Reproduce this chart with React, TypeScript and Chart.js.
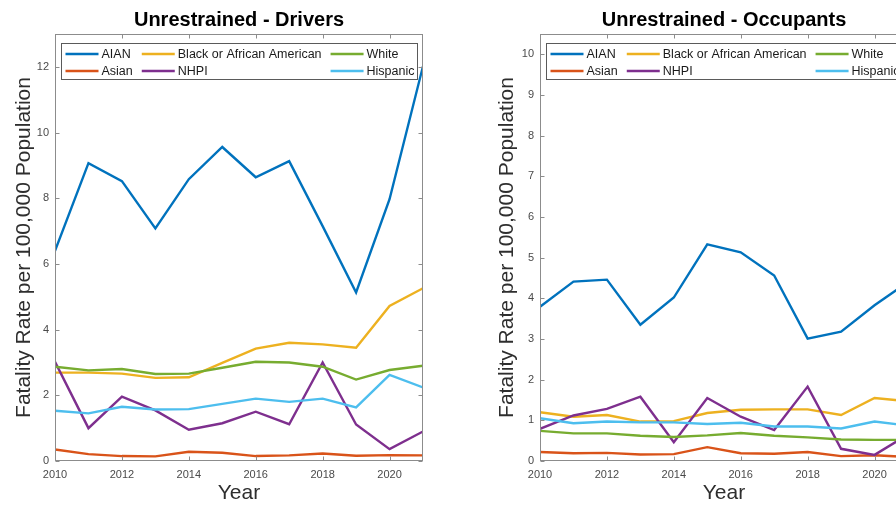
import React, { useEffect, useRef } from "react";
import { Chart, registerables } from "chart.js";

Chart.register(...registerables);

const FONT = "'Liberation Sans', Arial, Helvetica, sans-serif";

// Years on the x axis
const years = [2010, 2011, 2012, 2013, 2014, 2015, 2016, 2017, 2018, 2019, 2020, 2021];

// Series names and their line colours (legend order is column-major)
const seriesNames = ["AIAN", "Asian", "Black or African American", "NHPI", "White", "Hispanic"];
const seriesColors = ["#0072BD", "#D95319", "#EDB120", "#7E2F8E", "#77AC30", "#4DBEEE"];

// Unrestrained drivers: fatality rate per 100,000 population
const driversAIAN = [6.4, 9.07, 8.52, 7.08, 8.58, 9.56, 8.64, 9.13, 7.15, 5.13, 7.97, 12.02];
const driversAsian = [0.35, 0.21, 0.15, 0.14, 0.28, 0.25, 0.15, 0.17, 0.23, 0.16, 0.18, 0.17];
const driversBlack = [2.69, 2.69, 2.66, 2.53, 2.55, 2.99, 3.42, 3.6, 3.55, 3.45, 4.72, 5.26];
const driversNHPI = [3.02, 1.0, 1.96, 1.54, 0.95, 1.15, 1.5, 1.12, 3.0, 1.11, 0.36, 0.9];
const driversWhite = [2.87, 2.76, 2.8, 2.65, 2.66, 2.84, 3.02, 3.0, 2.87, 2.48, 2.77, 2.9];
const driversHispanic = [1.53, 1.45, 1.65, 1.57, 1.58, 1.74, 1.9, 1.8, 1.9, 1.63, 2.62, 2.24];

// Unrestrained occupants: fatality rate per 100,000 population
const occupantsAIAN = [3.79, 4.41, 4.46, 3.35, 4.02, 5.33, 5.13, 4.56, 3.01, 3.18, 3.83, 4.4];
const occupantsAsian = [0.22, 0.19, 0.2, 0.16, 0.17, 0.34, 0.19, 0.18, 0.22, 0.12, 0.14, 0.1];
const occupantsBlack = [1.2, 1.09, 1.13, 0.97, 0.98, 1.18, 1.26, 1.27, 1.27, 1.13, 1.55, 1.47];
const occupantsNHPI = [0.79, 1.12, 1.28, 1.58, 0.46, 1.55, 1.09, 0.76, 1.83, 0.3, 0.15, 0.65];
const occupantsWhite = [0.74, 0.68, 0.68, 0.62, 0.59, 0.63, 0.69, 0.62, 0.58, 0.53, 0.52, 0.52];
const occupantsHispanic = [1.05, 0.93, 0.97, 0.95, 0.95, 0.91, 0.94, 0.85, 0.85, 0.8, 0.97, 0.87];

const driversSeries = [driversAIAN, driversAsian, driversBlack, driversNHPI, driversWhite, driversHispanic];
const occupantsSeries = [occupantsAIAN, occupantsAsian, occupantsBlack, occupantsNHPI, occupantsWhite, occupantsHispanic];

const LINE_W = 2.4;

// Axis box with inward ticks on all four sides, then a boxed legend in two rows
const axesAndLegend = {
  id: "axesAndLegend",
  afterDatasetsDraw(chart: any) {
    const { ctx, chartArea: a, scales } = chart;
    const L = Math.round(a.left) + 0.5;
    const R = Math.round(a.right) - 0.5;
    const T = Math.round(a.top) + 0.5;
    const B = Math.round(a.bottom) - 0.5;
    const tickLen = 4;
    ctx.save();
    ctx.strokeStyle = "#8c8c8c";
    ctx.lineWidth = 1;
    ctx.strokeRect(L, T, R - L, B - T);
    ctx.beginPath();
    for (const t of scales.x.ticks) {
      const px = Math.round(scales.x.getPixelForValue(t.value)) + 0.5;
      ctx.moveTo(px, B);
      ctx.lineTo(px, B - tickLen);
      ctx.moveTo(px, T);
      ctx.lineTo(px, T + tickLen);
    }
    for (const t of scales.y.ticks) {
      const py = Math.round(scales.y.getPixelForValue(t.value)) + 0.5;
      ctx.moveTo(L, py);
      ctx.lineTo(L + tickLen, py);
      ctx.moveTo(R, py);
      ctx.lineTo(R - tickLen, py);
    }
    ctx.stroke();

    // Legend
    const ds = chart.data.datasets;
    const rows = 2;
    const cols = Math.ceil(ds.length / rows);
    ctx.font = `12.5px ${FONT}`;
    const lineLen = 33;
    const textGap = 3;
    const colGap = 9;
    const padL = 4;
    const padR = 3;
    const colW: number[] = [];
    for (let c = 0; c < cols; c++) {
      let w = 0;
      for (let r = 0; r < rows; r++) {
        const d = ds[c * rows + r];
        if (d) w = Math.max(w, ctx.measureText(d.label).width);
      }
      colW.push(lineLen + textGap + w + (c < cols - 1 ? colGap : 0));
    }
    const boxX = Math.round(a.left) + 6 + 0.5;
    const boxY = Math.round(a.top) + 9 + 0.5;
    const boxW = Math.round(padL + colW.reduce((s, v) => s + v, 0) + padR);
    const boxH = 36;
    ctx.fillStyle = "#ffffff";
    ctx.fillRect(boxX, boxY, boxW, boxH);
    ctx.strokeStyle = "#5a5a5a";
    ctx.strokeRect(boxX, boxY, boxW, boxH);
    ctx.textBaseline = "middle";
    ctx.textAlign = "left";
    let cx = boxX + padL;
    for (let c = 0; c < cols; c++) {
      for (let r = 0; r < rows; r++) {
        const d = ds[c * rows + r];
        if (!d) continue;
        const cy = Math.round(boxY + 10 + r * 17);
        ctx.strokeStyle = d.borderColor;
        ctx.lineWidth = LINE_W;
        ctx.beginPath();
        ctx.moveTo(cx, cy);
        ctx.lineTo(cx + lineLen, cy);
        ctx.stroke();
        ctx.fillStyle = "#1a1a1a";
        ctx.fillText(d.label, cx + lineLen + textGap, cy + 0.5);
      }
      cx += colW[c];
    }
    ctx.restore();
  },
};

type PanelProps = {
  title: string;
  series: number[][];
  yMax: number;
  yStep: number;
  left: number;
  width: number;
  axisWidth: number;
  plotWidth: number;
  yTitlePad: number;
};

function FatalityPanel(props: PanelProps) {
  const ref = useRef<HTMLCanvasElement | null>(null);
  useEffect(() => {
    if (!ref.current) return;
    const { title, series, yMax, yStep, width, axisWidth, plotWidth, yTitlePad } = props;
    const datasets = series.map((vals, i) => ({
      label: seriesNames[i],
      data: years.map((yr, j) => ({ x: yr, y: vals[j] })),
      borderColor: seriesColors[i],
      backgroundColor: seriesColors[i],
      borderWidth: LINE_W,
      pointRadius: 0,
      tension: 0,
      fill: false,
      order: -i,
    }));
    const chart = new Chart(ref.current, {
      type: "line",
      data: { datasets },
      plugins: [axesAndLegend],
      options: {
        responsive: false,
        animation: false,
        layout: { padding: { left: 0, top: 0, bottom: 0, right: width - axisWidth - plotWidth } },
        plugins: {
          legend: { display: false },
          tooltip: { enabled: false },
          title: {
            display: true,
            text: title,
            fullSize: false,
            color: "#000000",
            font: { family: FONT, size: 20, weight: "bold", lineHeight: 1.2 },
            padding: { top: 8, bottom: 2 },
          },
        },
        scales: {
          x: {
            type: "linear",
            min: 2010,
            max: 2021,
            grid: { display: false, drawTicks: false },
            border: { display: false },
            ticks: {
              stepSize: 2,
              includeBounds: false,
              padding: 7,
              maxRotation: 0,
              color: "#4a4a4a",
              font: { family: FONT, size: 11 },
              callback: (v: any) => String(v),
            },
            title: {
              display: true,
              text: "Year",
              color: "#2e2e2e",
              font: { family: FONT, size: 21 },
              padding: { top: 0, bottom: 3 },
            },
            afterFit: (s: any) => {
              s.height = 48;
            },
          },
          y: {
            type: "linear",
            min: 0,
            max: yMax,
            grid: { display: false, drawTicks: false },
            border: { display: false },
            ticks: {
              stepSize: yStep,
              includeBounds: false,
              padding: 6,
              color: "#4a4a4a",
              font: { family: FONT, size: 11 },
            },
            title: {
              display: true,
              text: "Fatality Rate per 100,000 Population",
              color: "#2e2e2e",
              font: { family: FONT, size: 21 },
              padding: { top: yTitlePad, bottom: 0 },
            },
            afterFit: (s: any) => {
              s.width = axisWidth;
            },
          },
        },
      } as any,
    });
    return () => chart.destroy();
  }, []);
  return (
    <canvas
      ref={ref}
      width={props.width}
      height={509}
      style={{ position: "absolute", left: props.left, top: 0, width: props.width, height: 509 }}
    />
  );
}

export default function App() {
  return (
    <div
      style={{
        position: "fixed",
        left: 0,
        top: 0,
        width: 896,
        height: 509,
        overflow: "hidden",
        background: "#ffffff",
      }}
    >
      <FatalityPanel
        title="Unrestrained - Drivers"
        series={driversSeries}
        yMax={13}
        yStep={2}
        left={0}
        width={448}
        axisWidth={55}
        plotWidth={368}
        yTitlePad={12}
      />
      <FatalityPanel
        title="Unrestrained - Occupants"
        series={occupantsSeries}
        yMax={10.5}
        yStep={1}
        left={448}
        width={500}
        axisWidth={92}
        plotWidth={368}
        yTitlePad={47}
      />
    </div>
  );
}
